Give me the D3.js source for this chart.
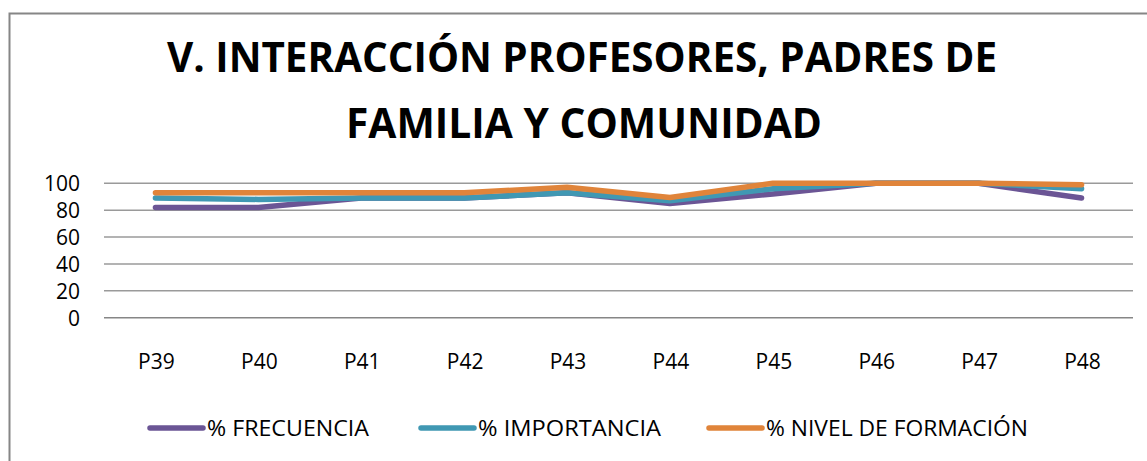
<!DOCTYPE html>
<html>
<head>
<meta charset="utf-8">
<script src="https://cdn.jsdelivr.net/npm/d3@7"></script>
<style>
body { margin: 0; background: #fff; }
svg { display: block; }
text { font-family: "Open Sans", "Noto Sans", sans-serif; fill: #000; }
</style>
</head>
<body>
<svg class="graph" width="1147" height="461"></svg>
<script>
// datos
var preguntas = ["P39","P40","P41","P42","P43","P44","P45","P46","P47","P48"];
var frecuencia = [82, 82, 89, 89, 93, 85, 92, 100, 100, 89];
var importancia = [89, 88, 89, 89, 93, 87, 96, 100, 100, 96];
var nivelFormacion = [93, 93, 93, 93, 97, 89.5, 100, 100, 100, 99];
var yTicks = [0, 20, 40, 60, 80, 100];
var nombres = ["% FRECUENCIA", "% IMPORTANCIA", "% NIVEL DE FORMACIÓN"];
var colores = ["#6b5595", "#4098b3", "#e0843a"];

var series = [frecuencia, importancia, nivelFormacion];

var svg = d3.select(".graph");

// marco del grafico
svg.append("rect")
  .attr("x", 9.5).attr("y", 13.5)
  .attr("width", 1160).attr("height", 470)
  .attr("fill", "#fff").attr("stroke", "#868686").attr("stroke-width", 2);

// titulo
svg.append("text").attr("x", 582).attr("y", 72)
  .attr("text-anchor", "middle")
  .style("font-size", "41px").style("font-weight", "bold")
  .attr("textLength", 830).attr("lengthAdjust", "spacingAndGlyphs")
  .text("V. INTERACCIÓN PROFESORES, PADRES DE");
svg.append("text").attr("x", 584).attr("y", 138)
  .attr("text-anchor", "middle")
  .style("font-size", "41px").style("font-weight", "bold")
  .attr("textLength", 476).attr("lengthAdjust", "spacingAndGlyphs")
  .text("FAMILIA Y COMUNIDAD");

var x = d3.scaleBand().domain(preguntas).range([104, 1133]);
var y = d3.scaleLinear().domain([0, 100]).range([317.7, 183.3]);

// lineas de cuadricula
svg.append("g").selectAll("line").data(yTicks).join("line")
  .attr("x1", 104).attr("x2", 1133)
  .attr("y1", function(d){ return y(d); }).attr("y2", function(d){ return y(d); })
  .attr("stroke", function(d){ return d === 0 ? "#868686" : "#9a9a9a"; })
  .attr("stroke-width", 1.6);

// eje y
var yAxis = svg.append("g").attr("transform", "translate(80,0)")
  .call(d3.axisLeft(y).tickValues(yTicks).tickSize(0).tickPadding(0));
yAxis.select(".domain").remove();
yAxis.selectAll("text").style("font-size", "21px").attr("fill", "#000").attr("dy", "0.36em")
  .style("font-family", "\"Open Sans\", sans-serif");

// eje x
var xAxis = svg.append("g").attr("transform", "translate(1,354)")
  .call(d3.axisBottom(x).tickSize(0).tickPadding(0));
xAxis.select(".domain").remove();
xAxis.selectAll("text").style("font-size", "21px").attr("fill", "#000")
  .style("font-family", "\"Open Sans\", sans-serif");

// series
var line = d3.line()
  .x(function(d, i){ return x(preguntas[i]) + x.bandwidth() / 2; })
  .y(function(d){ return y(d); });

series.forEach(function(s, k){
  svg.append("path").datum(s)
    .attr("d", line)
    .attr("fill", "none")
    .attr("stroke", colores[k])
    .attr("stroke-width", 5.5)
    .attr("stroke-linecap", "round")
    .attr("stroke-linejoin", "round");
});

// leyenda
var legX = [150, 421, 709];
var legW = [162, 183, 262];
var leg = svg.append("g").selectAll("g").data(nombres).join("g")
  .attr("transform", function(d, i){ return "translate(" + legX[i] + ",428)"; });
leg.append("line").attr("x1", 0).attr("x2", 53).attr("y1", 0).attr("y2", 0)
  .attr("stroke", function(d, i){ return colores[i]; })
  .attr("stroke-width", 5.5).attr("stroke-linecap", "round");
leg.append("text").attr("x", 57).attr("y", 8)
  .style("font-size", "21px")
  .attr("textLength", function(d, i){ return legW[i]; })
  .attr("lengthAdjust", "spacingAndGlyphs")
  .text(function(d){ return d; });
</script>
</body>
</html>
